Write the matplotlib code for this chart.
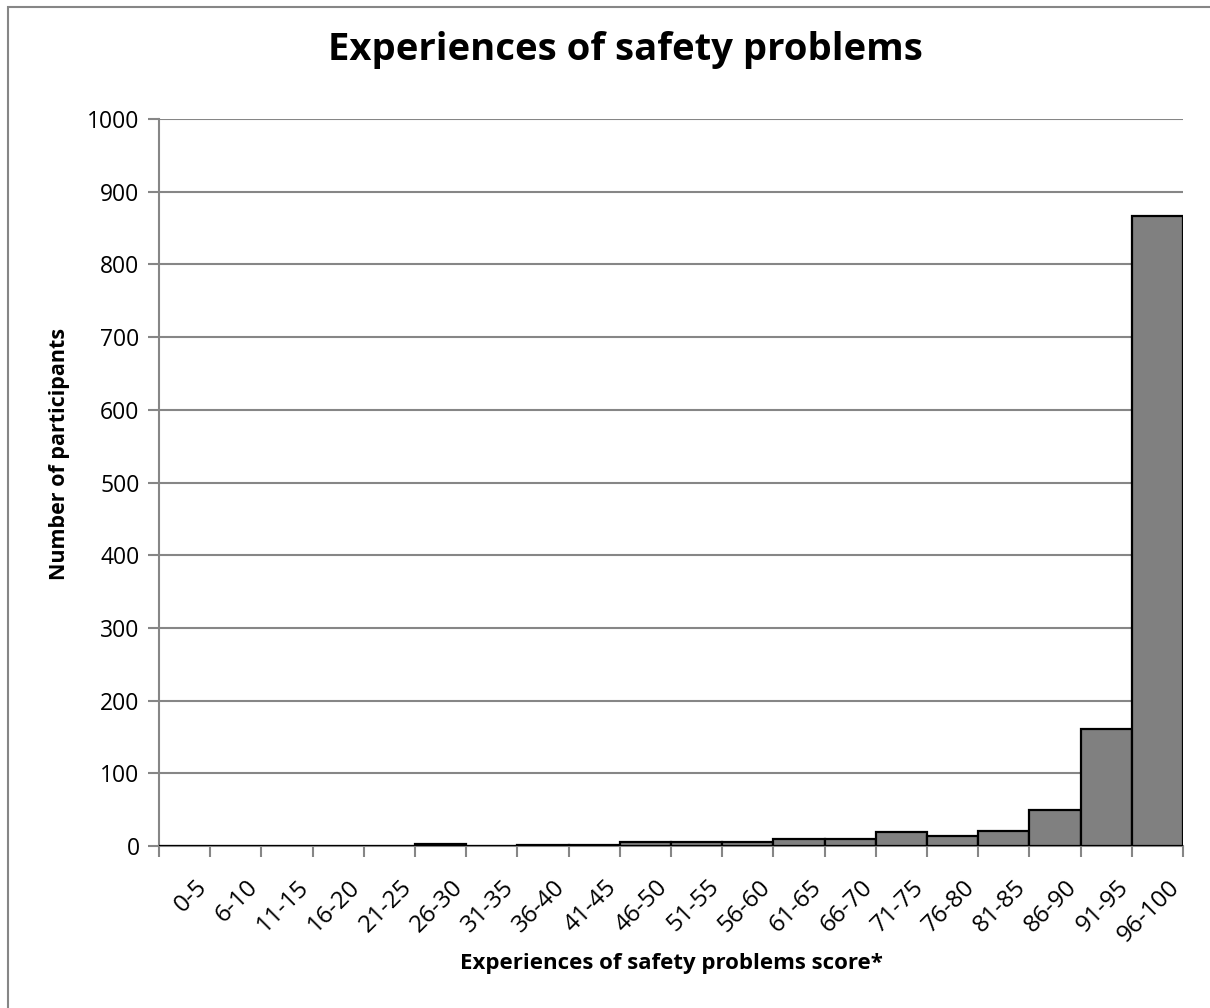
import matplotlib.pyplot as plt
from matplotlib.patches import Rectangle
import numpy as np

plt.rcParams['font.family'] = ['Open Sans', 'DejaVu Sans']

# Histogram bins and counts
categories = ['0-5', '6-10', '11-15', '16-20', '21-25', '26-30', '31-35',
              '36-40', '41-45', '46-50', '51-55', '56-60', '61-65', '66-70',
              '71-75', '76-80', '81-85', '86-90', '91-95', '96-100']
participants = [0, 0, 0, 0, 0, 3, 0, 1, 1, 6, 5, 5, 10, 10, 19, 14, 21, 50, 161, 866]
y_ticks = list(range(0, 1001, 100))

W, H = 1210, 1008
fig = plt.figure(figsize=(W / 100, H / 100), dpi=100)
ax = fig.add_axes([159 / W, 1 - 846 / H, (1183 - 159) / W, (846 - 119) / H])

x = np.arange(len(categories))
ax.bar(x, participants, width=1.0, color='#808080', edgecolor='black',
       linewidth=1.6, zorder=3)

ax.set_xlim(-0.5, len(categories) - 0.5)
ax.set_ylim(0, 1000)
ax.set_yticks(y_ticks)
ax.tick_params(axis='y', labelsize=16.5, length=8, width=1.5, color='#868686', pad=6)
ax.yaxis.grid(True, color='#868686', linewidth=1.5, zorder=0)

# ticks at bin boundaries, labels at bin centres
ax.set_xticks(np.arange(len(categories) + 1) - 0.5)
ax.set_xticklabels([])
ax.tick_params(axis='x', which='major', length=8, width=1.5, color='#868686')
ax.set_xticks(x + 0.2, minor=True)
ax.set_xticklabels(categories, minor=True, rotation=45, ha='right',
                   rotation_mode='anchor', fontsize=17.5)
ax.tick_params(axis='x', which='minor', length=0, pad=21)

for s in ['top', 'right']:
    ax.spines[s].set_visible(False)
for s in ['left', 'bottom']:
    ax.spines[s].set_color('#868686')
    ax.spines[s].set_linewidth(1.5)

fig.text(625 / W, 1 - 50 / H, 'Experiences of safety problems', ha='center',
         va='center', fontsize=27.5, fontweight='bold')
fig.text(671 / W, 1 - 963 / H, 'Experiences of safety problems score*',
         ha='center', va='center', fontsize=16, fontweight='bold')
fig.text(60 / W, 1 - 454 / H, 'Number of participants', ha='center',
         va='center', rotation=90, fontsize=15.5, fontweight='bold')

# chart border
fig.patches.append(Rectangle((8 / W, -0.1), 1.2, 1 - 7 / H + 0.1,
                             transform=fig.transFigure, fill=False,
                             edgecolor='#868686', linewidth=1.5))

fig.savefig('out.png', dpi=100)
